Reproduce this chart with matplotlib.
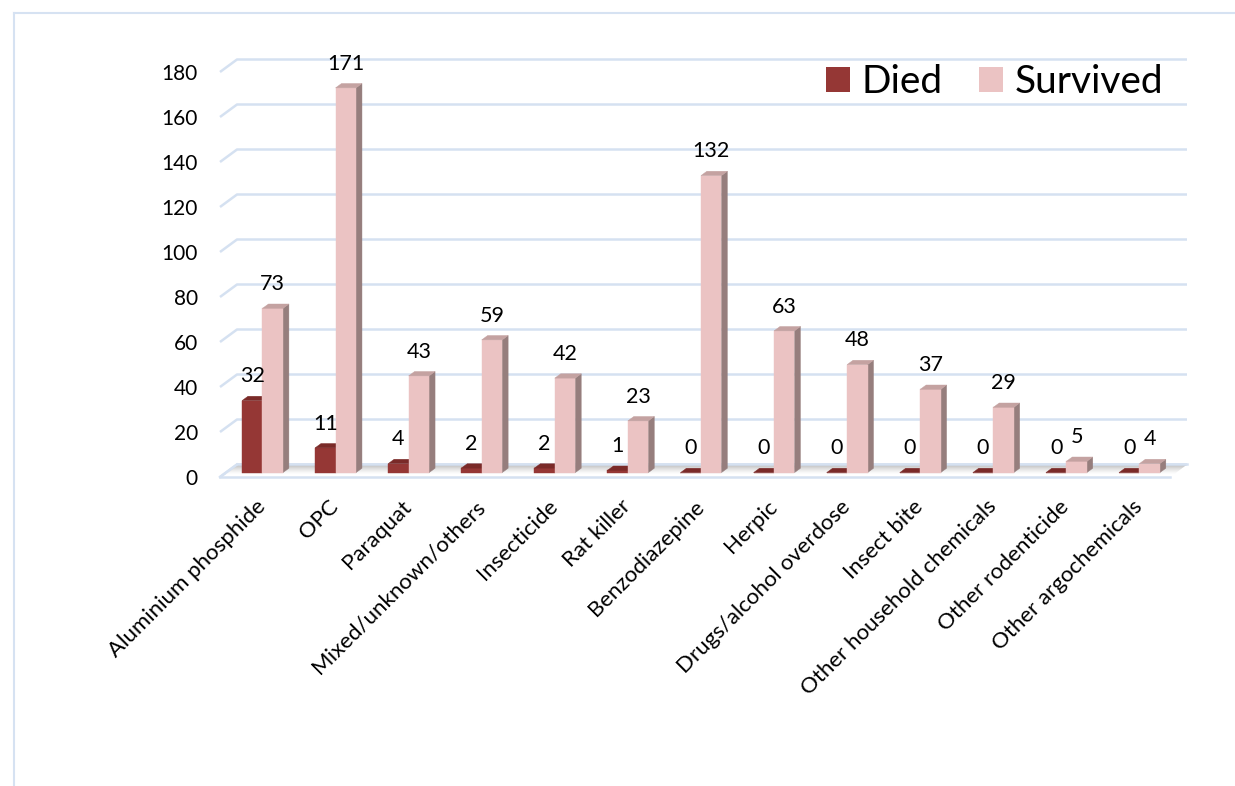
import matplotlib
matplotlib.use("Agg")
import matplotlib.pyplot as plt
from matplotlib.patches import Polygon, Patch
from matplotlib.lines import Line2D
import numpy as np

categories = [
    "Aluminium phosphide", "OPC", "Paraquat", "Mixed/unknown/others",
    "Insecticide", "Rat killer", "Benzodiazepine", "Herpic",
    "Drugs/alcohol overdose", "Insect bite", "Other household chemicals",
    "Other rodenticide", "Other argochemicals",
]
died = [32, 11, 4, 2, 2, 1, 0, 0, 0, 0, 0, 0, 0]
survived = [73, 171, 43, 59, 42, 23, 132, 63, 48, 37, 29, 5, 4]
y_ticks = list(range(0, 181, 20))
series_names = ["Died", "Survived"]

plt.rcParams['font.family'] = ['Lato', 'DejaVu Sans']

W, H = 1235, 786
fig = plt.figure(figsize=(W / 100, H / 100), dpi=100)

# front plane of the plot box, in figure pixels
x0_px, x1_px = 220, 1170
y0_px, y1_px = 477, 72
ax = fig.add_axes([x0_px / W, 1 - y0_px / H, (x1_px - x0_px) / W, (y0_px - y1_px) / H])
n = len(categories)
ax.set_xlim(0, n)
ax.set_ylim(0, 180)
for s in ax.spines.values():
    s.set_visible(False)

# depth vector of the 3-D box expressed in data units
px_x = (x1_px - x0_px) / n
px_y = (y0_px - y1_px) / 180
DX = 17 / px_x
DY = 12.5 / px_y

grid_c = '#d5e1f1'
# back wall and side wall gridlines
for v in y_ticks:
    ax.plot([0, DX, n + DX], [v, v + DY, v + DY], color=grid_c, lw=1.8,
            clip_on=False, zorder=1, solid_capstyle='butt')

# floor with a soft shadow toward the back
steps = 30
for k in range(steps):
    t0 = 0.24 + (1 - 0.24) * k / steps
    t1 = 0.24 + (1 - 0.24) * (k + 1) / steps
    frac = (k + 0.5) / steps
    g = 1 - 0.36 * frac ** 1.3
    poly = Polygon([(t0 * DX, t0 * DY), (n + t0 * DX, t0 * DY),
                    (n + t1 * DX, t1 * DY), (t1 * DX, t1 * DY)],
                   closed=True, facecolor=(g, g, g), edgecolor='none',
                   clip_on=False, zorder=1.5)
    ax.add_patch(poly)
ax.plot([DX, n + DX], [DY, DY], color=grid_c, lw=1.8, clip_on=False, zorder=1.6)
ax.plot([0, n], [0, 0], color=grid_c, lw=1.8, clip_on=False, zorder=1.6)
ax.plot([0, DX], [0, DY], color=grid_c, lw=1.8, clip_on=False, zorder=1.6)

bw = 0.28
f_front = 0.35
f_depth = 0.35
died_cols = ('#953735', '#7a2a28', '#6b2422')
surv_cols = ('#ebc3c3', '#c4a2a1', '#967e7d')
value_fs = 15.5


def draw_box(xl, h, cols, z):
    front_c, top_c, side_c = cols
    fx, fy = xl + f_front * DX, f_front * DY
    bx, by = f_depth * DX, f_depth * DY
    faces = [
        ([(fx + bw, fy), (fx + bw + bx, fy + by), (fx + bw + bx, fy + h + by), (fx + bw, fy + h)], side_c),
        ([(fx, fy), (fx + bw, fy), (fx + bw, fy + h), (fx, fy + h)], front_c),
        ([(fx, fy + h), (fx + bw, fy + h), (fx + bw + bx, fy + h + by), (fx + bx, fy + h + by)], top_c),
    ]
    for pts, c in faces:
        ax.add_patch(Polygon(pts, closed=True, facecolor=c, edgecolor=c, lw=0.3,
                             clip_on=False, zorder=z))
    return fx + bw / 2, fy + h


for i in range(n):
    z = 3 + i * 0.01
    cx, top = draw_box(i + 0.22, died[i], died_cols, z)
    ax.annotate(str(died[i]), xy=(cx, top), xytext=(0, 17.5), textcoords='offset points',
                ha='center', va='center', fontsize=value_fs, color='black', zorder=10)
    cx, top = draw_box(i + 0.50, survived[i], surv_cols, z + 0.005)
    ax.annotate(str(survived[i]), xy=(cx, top), xytext=(0, 17.5), textcoords='offset points',
                ha='center', va='center', fontsize=value_fs, color='black', zorder=10)

ax.set_yticks(y_ticks)
ax.tick_params(axis='y', length=0, pad=16, labelsize=15)
ax.set_xticks(np.arange(n) + 0.58)
ax.set_xticklabels(categories, rotation=45, ha='right', va='center',
                   rotation_mode='anchor', fontsize=16)
ax.tick_params(axis='x', length=0, pad=19)

handles = [Patch(facecolor=died_cols[0], edgecolor='none'),
           Patch(facecolor=surv_cols[0], edgecolor='none')]
fig.legend(handles, series_names, loc='center right',
           bbox_to_anchor=(1163 / W, 1 - 82 / H), bbox_transform=fig.transFigure,
           ncol=2, frameon=False, fontsize=28, handlelength=0.62, handleheight=0.62,
           handletextpad=0.28, columnspacing=0.95, borderpad=0, borderaxespad=0)

# outer chart frame
frame_c = '#d6e2f2'
fig.add_artist(Line2D([13.5 / W, 13.5 / W], [0, 1 - 12.5 / H], transform=fig.transFigure,
                      color=frame_c, lw=1.5))
fig.add_artist(Line2D([13.5 / W, 1], [1 - 12.5 / H, 1 - 12.5 / H], transform=fig.transFigure,
                      color=frame_c, lw=1.5))

fig.savefig('out.png', dpi=100, facecolor='white')
